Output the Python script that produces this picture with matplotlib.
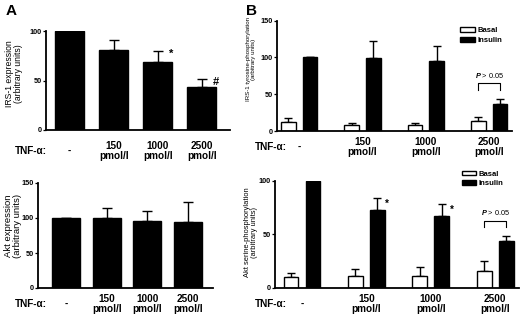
import matplotlib

matplotlib.use("Agg")
import matplotlib.pyplot as plt

W, H = 520, 316

doses = ["-", "150\npmol/l", "1000\npmol/l", "2500\npmol/l"]
series = ["Basal", "Insulin"]

# panel A: protein expression
irs1_expr = [100, 81, 68.5, 43]
irs1_expr_err = [0, 10, 11.5, 8.5]
akt_expr = [100, 100, 95.5, 94.5]
akt_expr_err = [0, 15, 15, 28]

# panel B: phosphorylation, basal vs insulin
irs1_basal = [12.7, 8.2, 8.2, 14.0]
irs1_basal_err = [4.5, 2.3, 3.2, 4.6]
irs1_insulin = [100, 99, 95.5, 36.8]
irs1_insulin_err = [0, 23, 20.5, 7.2]

akt_basal = [10.3, 11.2, 10.9, 15.9]
akt_basal_err = [3.1, 6.6, 8.1, 9.3]
akt_insulin = [100, 72.6, 67.3, 43.6]
akt_insulin_err = [0, 10.9, 10.9, 5.0]

plt.rcParams["font.family"] = ["Liberation Sans", "DejaVu Sans"]
plt.rcParams["mathtext.fontset"] = "custom"
plt.rcParams["mathtext.it"] = "Liberation Sans:italic:bold"
plt.rcParams["mathtext.rm"] = "Liberation Sans:bold"

fig = plt.figure(figsize=(W / 100, H / 100), dpi=100)


def axes_px(x0, y0, x1, y1):
    return fig.add_axes([x0 / W, 1 - y1 / H, (x1 - x0) / W, (y1 - y0) / H])


def style(ax, ymax, yticks, xlim, label_offset, tnf_x):
    ax.set_ylim(0, ymax)
    ax.set_xlim(*xlim)
    for side in ("top", "right"):
        ax.spines[side].set_visible(False)
    for side in ("left", "bottom"):
        ax.spines[side].set_linewidth(1.3)
    ax.set_yticks(yticks)
    ax.set_yticklabels([str(t) for t in yticks], fontsize=5.2, fontweight="bold")
    ax.tick_params(axis="y", length=2.2, width=0.9, pad=1)
    ax.set_xticks([])
    height_px = ax.get_position().height * H
    for i, lab in enumerate(doses):
        ax.text(i, -label_offset / height_px, lab, transform=ax.get_xaxis_transform(),
                ha="center", va="center", fontsize=7.2, fontweight="bold", linespacing=1.05)
    pos = ax.get_position()
    fig.text(tnf_x / W, pos.y0 - label_offset / H, "TNF-α:", ha="left", va="center",
             fontsize=7.2, fontweight="bold")


def ylabel(text, x, y, size):
    fig.text(x / W, 1 - y / H, text, rotation=90, ha="center", va="center",
             multialignment="center", fontsize=size, linespacing=1.1)


def one_sided(ax, x, vals, errs, cap):
    ax.errorbar(x, vals, yerr=[[0] * len(errs), errs], fmt="none", ecolor="black",
                elinewidth=1.0, capsize=cap, capthick=1.0, zorder=1)


def bracket(ax, x0, x1, ytop, ylow, label):
    ax.plot([x0, x0, x1, x1], [ylow, ytop, ytop, ylow], color="black", lw=0.8, clip_on=False)
    ax.text((x0 + x1) / 2, ytop + 4, label, ha="center", va="bottom", fontsize=5.3)


idx = list(range(len(doses)))

# A top
ax = axes_px(46, 31, 230, 130)
ax.bar(idx, irs1_expr, width=0.66, color="black", edgecolor="black", zorder=2)
one_sided(ax, idx, irs1_expr, irs1_expr_err, 3.3)
style(ax, 100, [0, 50, 100], (-0.534, 3.64), 21, 15)
ax.text(2 + 0.31, irs1_expr[2] + irs1_expr_err[2] - 3, "*", ha="center", va="center",
        fontsize=8, fontweight="bold")
ax.text(3 + 0.33, irs1_expr[3] + irs1_expr_err[3] - 3, "#", ha="center", va="center",
        fontsize=8, fontweight="bold")
ylabel("IRS-1 expression\n(arbitrary units)", 14, 74, 6.2)
fig.text(6 / W, 1 - 11 / H, "A", ha="left", va="center", fontsize=11, fontweight="bold")

# A bottom
ax = axes_px(38, 183, 213, 288)
ax.bar(idx, akt_expr, width=0.69, color="black", edgecolor="black", zorder=2)
one_sided(ax, idx, akt_expr, akt_expr_err, 3.3)
style(ax, 150, [0, 50, 100, 150], (-0.69, 3.62), 16, 15)
ylabel("Akt expression\n(arbitrary units)", 13, 226, 6.8)

# B panels
off, bw = 0.17, 0.23
xb = [i - off for i in idx]
xi = [i + off for i in idx]


def panel_b(ax, basal, basal_err, ins, ins_err, legend_anchor):
    ax.bar(xb, basal, width=bw, color="white", edgecolor="black", linewidth=1.0,
           zorder=2, label=series[0])
    ax.bar(xi, ins, width=bw, color="black", edgecolor="black", zorder=2, label=series[1])
    one_sided(ax, xb, basal, basal_err, 3.0)
    one_sided(ax, xi, ins, ins_err, 3.0)
    ax.legend(loc="upper left", bbox_to_anchor=legend_anchor, frameon=False,
              borderaxespad=0, borderpad=0, handlelength=1.9, handleheight=0.6,
              handletextpad=0.3, labelspacing=0.3,
              prop={"size": 5.5, "weight": "bold"})


# B top
ax = axes_px(277, 20.7, 512, 131)
panel_b(ax, irs1_basal, irs1_basal_err, irs1_insulin, irs1_insulin_err, (0.78, 0.94))
style(ax, 150, [0, 50, 100, 150], (-0.35, 3.36), 16, 255)
bracket(ax, xb[3], xi[3], 65, 55.5, r"$P$ > 0.05")
ylabel("IRS-1 tyrosine-phosphorylation\n(arbitrary units)", 251, 59, 4.4)
fig.text(246 / W, 1 - 11 / H, "B", ha="left", va="center", fontsize=11, fontweight="bold")

# B bottom
ax = axes_px(275, 180.7, 519, 287.7)
panel_b(ax, akt_basal, akt_basal_err, akt_insulin, akt_insulin_err, (0.765, 1.095))
style(ax, 100, [0, 50, 100], (-0.42, 3.37), 16, 255)
for i in (1, 2):
    ax.text(xi[i] + 0.15, akt_insulin[i] + akt_insulin_err[i] - 5, "*", ha="center",
            va="center", fontsize=7, fontweight="bold")
bracket(ax, xb[3], xi[3], 62.3, 56.5, r"$P$ > 0.05")
ylabel("Akt serine-phosphorylation\n(arbitrary units)", 251, 232, 5.4)

fig.savefig("out.png", dpi=100)
